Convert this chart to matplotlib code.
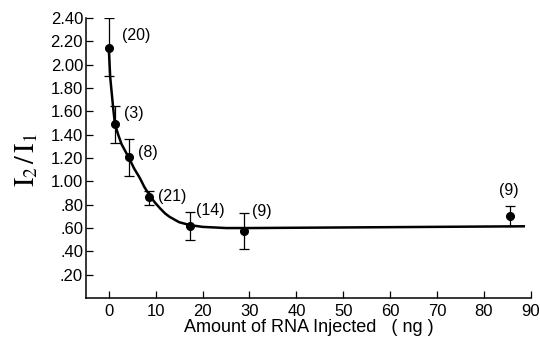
import numpy as np
import matplotlib.pyplot as plt

# measured points (ng of RNA injected vs I2/I1)
rna_ng = [0, 1.3, 4.3, 8.5, 17.3, 28.8, 85.5]
ratio = [2.14, 1.49, 1.21, 0.87, 0.62, 0.575, 0.705]
err_hi = [2.40, 1.65, 1.36, 0.92, 0.74, 0.725, 0.79]
err_lo = [1.90, 1.33, 1.05, 0.80, 0.50, 0.42, 0.62]
n_labels = ['(20)', '(3)', '(8)', '(21)', '(14)', '(9)', '(9)']
label_x = [2.8, 3.2, 6.2, 10.4, 18.5, 30.5, 83.3]
label_y = [2.25, 1.58, 1.25, 0.87, 0.75, 0.74, 0.92]

# fitted curve
curve_x = [0, 0.3, 0.9, 1.3, 2.0, 2.7, 3.5, 4.3, 5.4, 6.6, 7.6, 8.7,
           9.8, 10.9, 12.0, 13.0, 15.0, 17.3, 20, 25, 30, 50, 88.5]
curve_y = [2.13, 1.89, 1.64, 1.49, 1.40, 1.32, 1.26, 1.20, 1.11, 1.03, 0.95, 0.88,
           0.82, 0.77, 0.725, 0.695, 0.65, 0.625, 0.61, 0.60, 0.60, 0.605, 0.615]

y_ticks = [0.2, 0.4, 0.6, 0.8, 1.0, 1.2, 1.4, 1.6, 1.8, 2.0, 2.2, 2.4]
y_ticklabels = ['.20', '.40', '.60', '.80', '1.00', '1.20', '1.40', '1.60', '1.80', '2.00', '2.20', '2.40']
x_ticks = [0, 10, 20, 30, 40, 50, 60, 70, 80, 90]

plt.rcParams['font.family'] = ['Liberation Sans', 'DejaVu Sans']
plt.rcParams['mathtext.fontset'] = 'stix'

fig = plt.figure(figsize=(5.4, 3.41), dpi=100)
ax = fig.add_axes([0.159, 0.126, 0.824, 0.821])

ax.plot(curve_x, curve_y, color='black', lw=1.8, solid_joinstyle='round')
yerr = [np.array(ratio) - np.array(err_lo), np.array(err_hi) - np.array(ratio)]
ax.errorbar(rna_ng, ratio, yerr=yerr, fmt='o', color='black', ms=5.5,
            elinewidth=0.9, capsize=3.5, capthick=0.9)

for t, lx, ly in zip(n_labels, label_x, label_y):
    ax.text(lx, ly, t, fontsize=11.5, va='center', ha='left')

ax.set_xlim(-4.9, 90)
ax.set_ylim(0, 2.4)
ax.set_xticks(x_ticks)
ax.set_yticks(y_ticks)
ax.set_yticklabels(y_ticklabels)
ax.tick_params(direction='in', length=5, width=0.9, labelsize=12, colors='black')
ax.tick_params(axis='y', pad=2)
ax.tick_params(axis='x', pad=4)
ax.spines['top'].set_visible(False)
ax.spines['right'].set_visible(False)
ax.spines['left'].set_linewidth(1.1)
ax.spines['bottom'].set_linewidth(1.1)

ax.set_xlabel('Amount of RNA Injected   ( ng )', fontsize=13, labelpad=0)
fig.text(0.05, 0.53, r'$\mathrm{I}_2\,/\,\mathrm{I}_1$', rotation=90,
         fontsize=20, va='center', ha='center')

fig.savefig('out.png', dpi=100)
